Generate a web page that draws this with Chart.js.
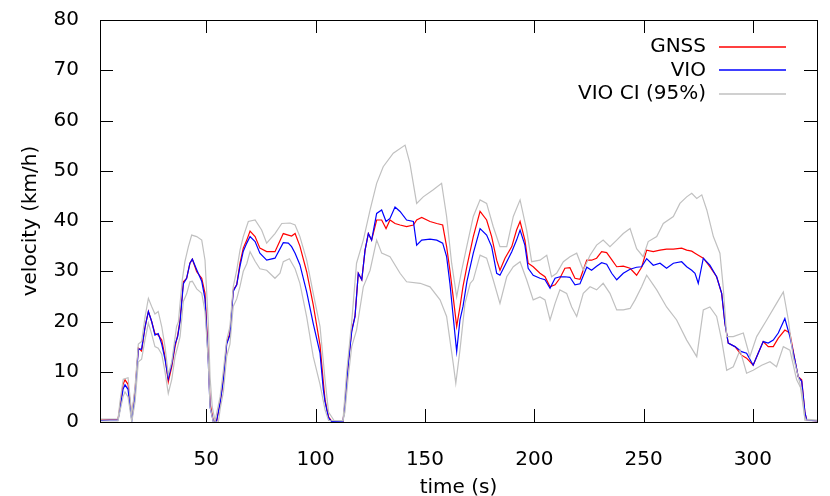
<!DOCTYPE html>
<html>
<head>
<meta charset="utf-8">
<script src="https://cdn.jsdelivr.net/npm/chart.js@4.4.1/dist/chart.umd.min.js"></script>
<style>
  html, body { margin:0; padding:0; background:#fff; }
</style>
</head>
<body>
<canvas id="velChart" width="830" height="496"></canvas>
<script>
// velocity over time: GNSS vs VIO, with VIO 95% confidence band
const xTicks = [50, 100, 150, 200, 250, 300];
const yTicks = [0, 10, 20, 30, 40, 50, 60, 70, 80];

const lineT = [1.4, 6, 9.6, 10.5, 11.9, 12.8, 14.2, 15.9, 17.4, 18.9,
  20.4, 22.0, 23.5, 25.0, 26.5, 28.0, 29.6, 31.1, 32.6, 34.2,
  35.7, 36.9, 38.0, 39.5, 41.0, 42.5, 43.6, 45.6, 47.9, 49.4,
  50.9, 51.7, 53.2, 54.7, 56.3, 57.8, 59.3, 60.8, 62.3, 63.9,
  65.4, 66.9, 68.5, 70.0, 72.3, 74.5, 77.6, 81.4, 85.2, 87.5,
  89.0, 90.6, 92.8, 95.9, 98.9, 102.0, 103.5, 104.3, 105.9, 107.3,
  112.5, 113.4, 114.9, 116.5, 118.0, 119.5, 121.1, 122.6, 124.1, 125.6,
  127.9, 130.2, 132.2, 134.0, 136.3, 138.6, 141.6, 144.7, 146.2, 148.5,
  152.3, 155.4, 158.1, 159.9, 161.4, 162.9, 164.5, 166.0, 167.4, 169.2,
  172.1, 175.2, 178.2, 180.5, 182.8, 184.3, 186.6, 189.7, 191.9, 193.5,
  195.7, 197.2, 199.5, 202.6, 204.9, 207.2, 209.5, 211.7, 214.0, 216.3,
  218.6, 220.9, 224.0, 226.2, 228.5, 230.8, 233.1, 235.4, 237.7, 240.7,
  243.8, 246.8, 249.1, 251.4, 254.4, 257.5, 260.5, 263.6, 267.4, 269.7,
  272.0, 273.5, 275.0, 277.3, 280.3, 283.4, 285.7, 287.2, 288.7, 291.8,
  294.8, 297.1, 300.1, 302.4, 304.7, 307.0, 309.3, 311.6, 314.6, 316.9,
  319.2, 320.7, 322.3, 323.8, 324.6, 329.3];

const gnssV = [0.4, 0.5, 0.5, 3, 7.5, 8.4, 7.5, 1, 6.4, 14.7,
  14.1, 19, 22, 20, 17.6, 17.3, 16.3, 13, 8, 11,
  15, 17.3, 20.3, 27.9, 28.6, 31.6, 32.4, 29.9, 28.6, 25.6,
  13, 3.8, 0.2, 0.2, 3.8, 8.4, 15.7, 17.7, 26.3, 27.3,
  31.6, 34.6, 36.2, 38, 36.9, 34.6, 33.9, 33.9, 37.5, 37.2,
  37, 37.5, 35, 29.9, 23.3, 15.3, 8, 4.4, 1, 0.2,
  0.1, 3.8, 11.7, 18.3, 21, 29.6, 28.3, 34.2, 37.5, 36.2,
  40.2, 40.2, 38.5, 40.2, 39.5, 39.2, 38.9, 39.2, 40.2, 40.7,
  39.9, 39.5, 39.2, 34.9, 30.2, 24.9, 19, 22.9, 27, 31,
  36.9, 41.9, 40.2, 36.9, 32.2, 30.2, 32.6, 34.9, 38.2, 39.9,
  36.2, 31.6, 30.9, 29.6, 28.9, 26.9, 27.3, 28.6, 30.6, 30.7,
  28.6, 28.4, 32.2, 32.2, 32.6, 33.9, 33.7, 32.3, 30.9, 31.0,
  30.6, 29.2, 30.8, 34.2, 33.9, 34.2, 34.4, 34.4, 34.6, 34.2,
  34, 33.6, 33.2, 32.6, 30.9, 28.9, 25.6, 19.6, 15.7, 15,
  13.3, 12.7, 11.3, 13.7, 16, 15, 15, 16.7, 18.3, 17.7,
  12.3, 9, 8.4, 1.8, 0.4, 0.2];

const vioV = [0.3, 0.4, 0.4, 2.5, 6.5, 7.4, 6.5, 0.3, 5.5, 14.5,
  14.5, 19, 22, 20, 17.3, 17.6, 15.5, 12.5, 8.6, 11.5,
  15.5, 17, 20, 27.5, 28.6, 31.6, 32.4, 30.3, 28, 24.5,
  12, 3, 0.1, 0.2, 3.8, 8.4, 15.5, 17.3, 26, 27.3,
  31, 34, 35.6, 36.9, 35.9, 33.6, 32.2, 32.6, 35.7, 35.6,
  34.9, 33.6, 31.3, 25.9, 19.6, 13.7, 6.5, 4, 0.8, 0.1,
  0.1, 3.5, 11.5, 18, 21, 29.6, 28.3, 34.2, 37.5, 36.2,
  41.5, 42.2, 39.9, 40.5, 42.8, 41.9, 40.2, 39.9, 35.2, 36.2,
  36.4, 36.2, 35.6, 32.9, 27.6, 21, 14, 20.3, 23, 28,
  33.6, 38.5, 37.2, 34.9, 29.6, 29.2, 31.2, 33.9, 36.2, 38.2,
  35.2, 30.6, 29.2, 28.6, 28.3, 26.6, 28.6, 28.9, 28.9, 28.8,
  27.3, 27.5, 30.8, 30.2, 31.0, 31.7, 31.4, 29.6, 28.3, 29.6,
  30.4, 30.8, 30.9, 32.5, 31.2, 31.6, 30.6, 31.6, 31.9, 30.9,
  30.2, 29.6, 27.6, 32.6, 31.2, 28.9, 25.6, 19.6, 15.7, 15,
  14, 13.7, 11.3, 13.7, 16, 15.7, 16.3, 17.7, 20.6, 17,
  12.3, 9, 8.1, 1.8, 0.4, 0.2];

const ciHiT = [1.4, 9.6, 10.5, 12.0, 14.2, 15.9, 17.4, 18.9, 20.4, 22.0,
  23.5, 25.0, 26.5, 28.0, 29.6, 31.1, 32.6, 34.2, 36.4, 37.2,
  39.0, 40.2, 41.8, 43.3, 45.6, 47.9, 49.4, 50.9, 51.7, 52.7,
  54.0, 56.3, 57.8, 59.3, 60.8, 62.3, 63.9, 65.4, 66.9, 69.2,
  72.3, 75.3, 77.6, 81.4, 84.5, 88.3, 90.6, 92.8, 95.9, 98.9,
  102.0, 104.3, 105.9, 108.4, 112.5, 114.2, 116.5, 118.7, 121.8, 124.9,
  127.9, 130.9, 135.5, 140.9, 143.1, 146.2, 149.2, 153.8, 157.6, 159.9,
  162.2, 164.5, 166.8, 169.1, 172.1, 175.2, 178.2, 181.2, 184.3, 187.4,
  190.4, 193.5, 196.5, 198.8, 202.6, 205.7, 207.9, 210.2, 213.3, 216.3,
  219.4, 222.4, 225.5, 228.5, 231.5, 234.6, 237.7, 240.7, 243.8, 246.8,
  249.8, 252.1, 256.0, 259.0, 263.6, 266.6, 269.7, 272.0, 274.3, 276.6,
  278.9, 281.9, 284.9, 286.4, 288.0, 291.0, 295.6, 298.6, 301.7, 306.3,
  310.8, 313.9, 316.2, 318.4, 321.5, 323.8, 329.3];

const ciHiV = [0.6, 0.6, 4, 8.5, 8.8, 1.5, 7, 15.5, 16, 21,
  24.6, 23, 21.5, 22, 19, 15, 9.4, 12, 19, 19.9,
  28.3, 31.9, 34.9, 37.2, 36.9, 36.2, 32.2, 19.7, 9, 3,
  0.2, 5, 10.3, 16.3, 19, 26.9, 30.2, 34.2, 36.9, 39.9,
  40.2, 38.2, 35.6, 37.5, 39.5, 39.6, 39.2, 36.9, 32.2, 25.6,
  19, 8.4, 2, 0.3, 0.3, 10, 20, 31.6, 36.2, 42.2,
  47.5, 50.8, 53.5, 55.1, 51.5, 43.5, 44.8, 46.2, 47.5, 40.9,
  31.6, 24.9, 30.2, 34.9, 40.9, 44.2, 43.5, 38.9, 34.9, 34.9,
  40.9, 44.2, 38.2, 31.9, 32.2, 33.2, 28.9, 29.6, 31.9, 32.9,
  33.6, 30.2, 33.2, 35.2, 36.2, 34.9, 36.2, 37.5, 38.5, 34.5,
  32.9, 35.9, 36.9, 39.5, 40.9, 43.5, 44.8, 45.5, 44.5, 45.2,
  42.2, 36.9, 33.6, 26.9, 17, 17, 17.7, 13, 17, 20.3,
  23.6, 25.9, 20.3, 13, 7.7, 0.6, 0.4];

const ciLoT = [1.4, 9.6, 11.9, 12.8, 14.2, 15.9, 17.4, 18.9, 20.4, 22.0,
  23.5, 25.0, 26.5, 28.0, 29.6, 31.1, 32.6, 34.2, 35.7, 36.9,
  38.0, 39.5, 41.0, 42.5, 43.6, 45.6, 47.9, 49.4, 50.9, 51.7,
  53.2, 55.5, 56.3, 57.8, 59.3, 60.8, 62.3, 63.9, 65.4, 66.9,
  68.5, 70.0, 72.3, 74.5, 77.6, 81.4, 83.7, 85.2, 88.0, 90.6,
  92.8, 95.9, 98.9, 102.0, 104.3, 105.9, 112.5, 113.4, 114.9, 116.5,
  118.7, 121.8, 124.9, 127.9, 130.2, 134.0, 138.6, 141.6, 147.8, 152.3,
  156.9, 159.9, 162.9, 164.1, 166.0, 168.3, 170.7, 172.1, 175.2, 178.2,
  181.2, 184.3, 187.4, 190.4, 193.5, 196.5, 199.5, 202.6, 204.9, 207.2,
  209.5, 211.7, 214.8, 217.1, 219.4, 222.4, 225.5, 228.5, 231.5, 234.6,
  237.7, 240.7, 243.8, 246.1, 249.1, 251.4, 256.0, 260.5, 265.1, 269.7,
  274.3, 277.3, 280.3, 283.4, 285.7, 288.0, 291.0, 294.1, 297.1, 300.1,
  304.0, 307.8, 310.8, 313.9, 316.9, 320.0, 322.3, 323.8, 329.3];

const ciLoV = [0.2, 0.2, 5, 6, 5, 0, 4, 12, 12.5, 16.5,
  19.7, 17.5, 15, 14.7, 13.5, 10, 5.7, 8.5, 13, 15,
  17, 24, 25.5, 27.9, 28, 26.5, 25.6, 22, 12, 3,
  0, 0, 2.5, 6, 13, 15.5, 23, 24.5, 27, 30,
  31.5, 33.9, 32, 30.5, 30.2, 28.6, 29.6, 31.9, 32.5, 30.5,
  27.6, 20.9, 13, 7.5, 2.4, 0.3, 0.2, 2, 9, 15,
  18.3, 26.9, 30.2, 36.2, 33.6, 32.9, 29.6, 27.9, 27.6, 26.9,
  24.3, 21, 11.7, 7.7, 14.3, 23.6, 27.6, 28.3, 33.2, 32.6,
  28.3, 23.6, 28.9, 30.9, 31.9, 28.3, 24.3, 24.9, 24.3, 20.3,
  23.6, 26.3, 25.6, 22.9, 21, 25.6, 26.9, 26.3, 27.6, 25.6,
  22.3, 22.3, 22.6, 24.3, 26.9, 29.2, 26.3, 22.9, 20.3, 16.3,
  13, 22.3, 22.9, 21, 16.3, 10.3, 11, 14.3, 9.7, 10.3,
  11.3, 12, 11, 15, 14.3, 8.4, 6.4, 0.3, 0.2];

const FONT = { family: "'DejaVu Sans', sans-serif", size: 20 };
const RED = "#ff0000", BLUE = "#0000ff", GREY = "#c0c0c0";

const pts = (t, v) => t.map((x, i) => ({ x, y: v[i] }));

// gnuplot-like frame with inward mirrored ticks
const framePlugin = {
    id: "frame",
    afterDatasetsDraw(chart) {
        const { ctx, chartArea: a, scales: { x, y } } = chart;
        const tl = 13;
        ctx.save();
        ctx.strokeStyle = "#000";
        ctx.lineWidth = 1;
        ctx.beginPath();
        xTicks.forEach(v => {
            const p = Math.round(x.getPixelForValue(v)) + 0.5;
            ctx.moveTo(p, a.bottom); ctx.lineTo(p, a.bottom - tl);
            ctx.moveTo(p, a.top);    ctx.lineTo(p, a.top + tl);
        });
        yTicks.forEach(v => {
            const p = Math.round(y.getPixelForValue(v)) + 0.5;
            ctx.moveTo(a.left, p);  ctx.lineTo(a.left + tl, p);
            ctx.moveTo(a.right, p); ctx.lineTo(a.right - tl, p);
        });
        ctx.stroke();
        ctx.strokeRect(Math.round(a.left) + 0.5, Math.round(a.top) + 0.5,
                       Math.round(a.right - a.left), Math.round(a.bottom - a.top));
        ctx.restore();
    },
    // key, top right, text right-aligned before the sample line
    afterDraw(chart) {
        const { ctx } = chart;
        const keys = chart.data.datasets.filter(d => d.keyLabel);
        ctx.save();
        ctx.font = `${FONT.size}px ${FONT.family}`;
        ctx.textAlign = "right";
        ctx.textBaseline = "middle";
        ctx.lineWidth = 1.6;
        keys.forEach((d, i) => {
            const ky = 47 + i * 23.3;
            ctx.fillStyle = "#000";
            ctx.fillText(d.keyLabel, 706, ky);
            ctx.strokeStyle = d.keyColor;
            ctx.beginPath();
            ctx.moveTo(719, Math.round(ky));
            ctx.lineTo(786, Math.round(ky));
            ctx.stroke();
        });
        ctx.restore();
    }
};

new Chart(document.getElementById("velChart"), {
    type: "line",
    data: {
        datasets: [
            { keyLabel: "GNSS", keyColor: RED, data: pts(lineT, gnssV), borderColor: RED, order: 4 },
            { keyLabel: "VIO", keyColor: BLUE, data: pts(lineT, vioV), borderColor: BLUE, order: 3 },
            { keyLabel: "VIO CI (95%)", keyColor: GREY, data: pts(ciHiT, ciHiV), borderColor: GREY, order: 2 },
            { data: pts(ciLoT, ciLoV), borderColor: GREY, order: 1 },
        ],
    },
    options: {
        responsive: false,
        animation: false,
        devicePixelRatio: 1,
        layout: { padding: { top: 20, right: 13, left: 0, bottom: 0 } },
        elements: {
            line: { borderWidth: 1.2, tension: 0, fill: false },
            point: { radius: 0, hoverRadius: 0 },
        },
        plugins: { legend: { display: false }, tooltip: { enabled: false } },
        scales: {
            x: {
                type: "linear", min: 1.37, max: 329.3,
                afterBuildTicks: s => { s.ticks = xTicks.map(v => ({ value: v })); },
                afterFit: s => { s.height = 74; s.paddingLeft = 0; s.paddingRight = 0; },
                grid: { display: false, drawTicks: false },
                border: { display: false },
                ticks: { padding: 26, color: "#000", font: FONT, maxRotation: 0, autoSkip: false },
                title: { display: true, text: "time (s)", color: "#000", font: FONT,
                         padding: { top: 0, bottom: -4 } },
            },
            y: {
                type: "linear", min: 0, max: 80,
                afterBuildTicks: s => { s.ticks = yTicks.map(v => ({ value: v })); },
                afterFit: s => { s.width = 100; s.paddingTop = 0; s.paddingBottom = 0; },
                grid: { display: false, drawTicks: false },
                border: { display: false },
                ticks: { padding: 21, color: "#000", font: FONT },
                title: { display: true, text: "velocity (km/h)", color: "#000", font: FONT,
                         padding: { top: 19, bottom: 0 } },
            },
        },
    },
    plugins: [framePlugin],
});
</script>
</body>
</html>
